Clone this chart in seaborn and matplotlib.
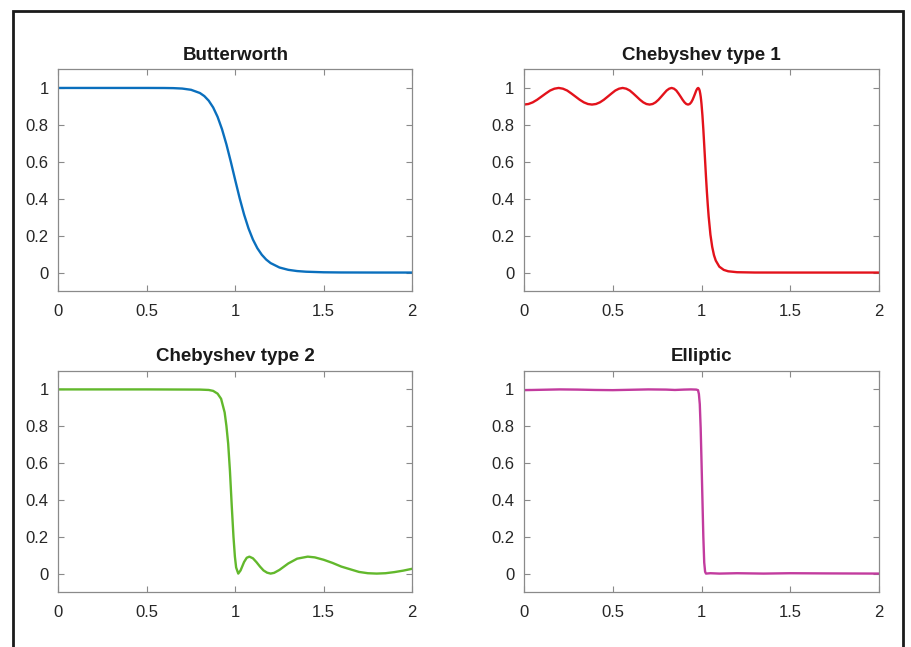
import numpy as np
import pandas as pd
import matplotlib
matplotlib.use("Agg")
import matplotlib.pyplot as plt
from matplotlib.patches import Rectangle
import seaborn as sns

titles = ["Butterworth", "Chebyshev type 1", "Chebyshev type 2", "Elliptic"]
x_ticks = [0, 0.5, 1, 1.5, 2]
x_tick_labels = ["0", "0.5", "1", "1.5", "2"]
y_ticks = [0, 0.2, 0.4, 0.6, 0.8, 1]
y_tick_labels = ["0", "0.2", "0.4", "0.6", "0.8", "1"]

butter_x = [0, 0.2, 0.4, 0.5, 0.6, 0.65, 0.7, 0.75, 0.8, 0.825, 0.85, 0.875, 0.9, 0.925,
            0.95, 0.975, 1.0, 1.025, 1.05, 1.075, 1.1, 1.125, 1.15, 1.175, 1.2, 1.25, 1.3,
            1.35, 1.4, 1.5, 1.6, 1.8, 2.0]
butter_y = [1, 1, 1, 1, 0.9997, 0.999, 0.9967, 0.990, 0.9726, 0.956, 0.9309, 0.8945, 0.8437,
            0.7768, 0.6944, 0.600, 0.5, 0.4025, 0.3142, 0.2392, 0.1787, 0.1319, 0.0966, 0.0704,
            0.0513, 0.0274, 0.0148, 0.0081, 0.0046, 0.0015, 0.0005, 0.0001, 0.0]

cheb1_x = [0, 0.02454, 0.04907, 0.07356, 0.09802, 0.12241, 0.14673, 0.17096, 0.19509,
           0.21910, 0.24298, 0.26671, 0.29028, 0.31368, 0.33689, 0.35990, 0.38268,
           0.40524, 0.42756, 0.44961, 0.47140, 0.49290, 0.51410, 0.53500, 0.55557,
           0.57581, 0.59570, 0.61523, 0.63439, 0.65317, 0.67156, 0.68954, 0.70711,
           0.72425, 0.74095, 0.75721, 0.77301, 0.78835, 0.80321, 0.81758, 0.83147,
           0.84485, 0.85773, 0.87009, 0.88192, 0.89322, 0.90399, 0.91421, 0.92388,
           0.93299, 0.94154, 0.94953, 0.95694, 0.96378, 0.97003, 0.97570, 0.98079,
           0.98528, 0.98918, 0.99248, 0.99518, 0.99729, 0.99880, 0.99970, 1.0,
           1.005, 1.01, 1.015, 1.02, 1.025, 1.03, 1.035, 1.04, 1.05, 1.06, 1.07, 1.08,
           1.1, 1.125, 1.15, 1.2, 1.3, 1.5, 2.0]
cheb1_y = [0.910, 0.913, 0.922, 0.936, 0.953, 0.970, 0.986, 0.996, 1.0,
           0.996, 0.986, 0.970, 0.953, 0.936, 0.922, 0.913, 0.910,
           0.913, 0.922, 0.936, 0.953, 0.970, 0.986, 0.996, 1.0,
           0.996, 0.986, 0.970, 0.953, 0.936, 0.922, 0.913, 0.910,
           0.913, 0.922, 0.936, 0.953, 0.970, 0.986, 0.996, 1.0,
           0.996, 0.986, 0.970, 0.953, 0.936, 0.922, 0.913, 0.910,
           0.913, 0.922, 0.936, 0.953, 0.970, 0.986, 0.996, 1.0,
           0.996, 0.986, 0.970, 0.953, 0.936, 0.922, 0.913, 0.910,
           0.850, 0.776, 0.691, 0.605, 0.518, 0.438, 0.367, 0.304, 0.205, 0.139, 0.094,
           0.065, 0.032, 0.0145, 0.0069, 0.0019, 0.0002, 0.0, 0.0]

cheb2_x = [0, 0.5, 0.8, 0.85, 0.875, 0.9, 0.92, 0.94, 0.95, 0.96, 0.97, 0.98, 0.99, 0.998,
           1.005, 1.017, 1.03, 1.05, 1.065, 1.08, 1.1, 1.12, 1.14, 1.16, 1.18, 1.2, 1.22,
           1.25, 1.27, 1.3, 1.35, 1.41, 1.45, 1.5, 1.55, 1.6, 1.7, 1.75, 1.8, 1.85, 1.9,
           1.95, 2.0]
cheb2_y = [1, 1, 0.999, 0.997, 0.992, 0.977, 0.949, 0.875, 0.802, 0.705, 0.557, 0.371,
           0.199, 0.092, 0.033, 0.0, 0.017, 0.063, 0.086, 0.092, 0.083, 0.062, 0.038,
           0.017, 0.005, 0.0, 0.004, 0.020, 0.034, 0.055, 0.081, 0.092, 0.088, 0.075,
           0.058, 0.038, 0.009, 0.002, 0.0, 0.002, 0.008, 0.016, 0.026]

ellip_x = [0, 0.1, 0.2, 0.3, 0.4, 0.5, 0.6, 0.7, 0.8, 0.85, 0.9, 0.94, 0.97, 0.98, 0.985,
           0.99, 0.995, 1.0, 1.005, 1.01, 1.015, 1.02, 1.025, 1.05, 1.1, 1.2, 1.35, 1.5,
           1.7, 2.0]
ellip_y = [0.996, 0.998, 1.0, 0.999, 0.997, 0.996, 0.998, 1.0, 0.999, 0.997, 0.999, 1.0,
           0.999, 0.996, 0.975, 0.92, 0.79, 0.60, 0.40, 0.20, 0.06, 0.01, 0.0, 0.002, 0.0,
           0.002, 0.0, 0.002, 0.001, 0.0]

colors = ["#0a6fbd", "#e3121b", "#62b82c", "#c23b9e"]
series = [(butter_x, butter_y), (cheb1_x, cheb1_y), (cheb2_x, cheb2_y), (ellip_x, ellip_y)]

sns.set_theme(style="white")
plt.rcParams["font.family"] = ["Liberation Sans", "DejaVu Sans"]

fig = plt.figure(figsize=(9.12, 6.47), dpi=100)
fig.patch.set_facecolor("white")

positions = [
    [0.0641, 0.5502, 0.3877, 0.3424],
    [0.5746, 0.5502, 0.3893, 0.3424],
    [0.0641, 0.0850, 0.3877, 0.3416],
    [0.5746, 0.0850, 0.3893, 0.3416],
]

spine_color = "#8a8a8a"
label_color = "#262626"

for i in range(4):
    ax = fig.add_axes(positions[i])
    xs, ys = series[i]
    df = pd.DataFrame({"x": xs, "y": ys})
    sns.lineplot(data=df, x="x", y="y", ax=ax, color=colors[i], linewidth=1.7,
                 estimator=None, sort=False)
    ax.set_xlim(0, 2)
    ax.set_ylim(-0.1, 1.1)
    ax.set_xticks(x_ticks)
    ax.set_xticklabels(x_tick_labels)
    ax.set_yticks(y_ticks)
    ax.set_yticklabels(y_tick_labels)
    ax.set_xlabel("")
    ax.set_ylabel("")
    ax.set_title(titles[i], fontsize=13.5, fontweight="bold", color="#1a1a1a", pad=7)
    ax.tick_params(direction="in", length=4, width=0.8, color=spine_color,
                   top=True, right=True, bottom=True, left=True,
                   labelsize=12, labelcolor=label_color)
    ax.tick_params(axis="x", pad=9)
    ax.tick_params(axis="y", pad=7)
    for s in ax.spines.values():
        s.set_visible(True)
        s.set_color(spine_color)
        s.set_linewidth(0.9)
    ax.grid(False)

# outer black frame (open at the bottom, as in the source image)
frame = Rectangle((13 / 912, -0.05), (903 - 13) / 912, 1 - 11 / 647 + 0.05,
                  transform=fig.transFigure, fill=False, edgecolor="#1a1a1a",
                  linewidth=2.0, clip_on=False)
fig.patches.append(frame)

fig.savefig("out.png", dpi=100, facecolor="white")
